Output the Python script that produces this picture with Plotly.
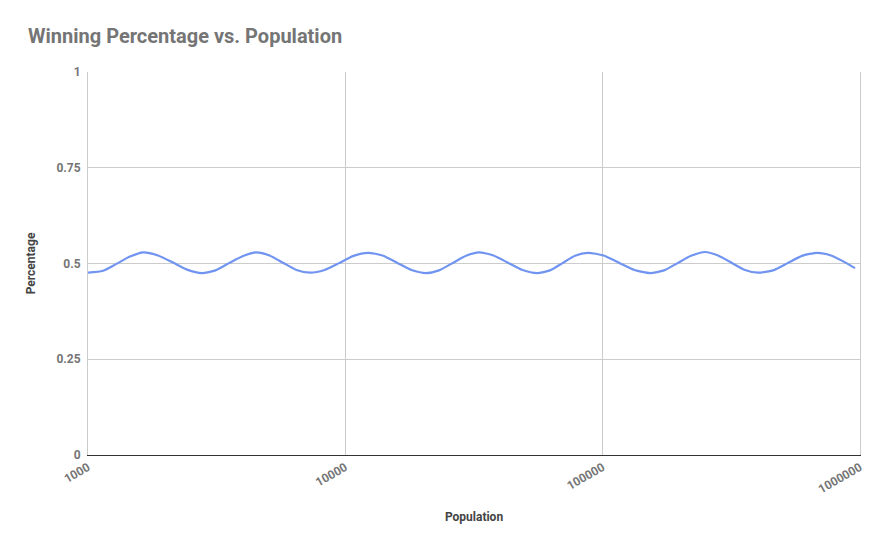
import plotly.graph_objects as go

# population values (log scale) and the winning percentage
population = [
    1000, 1144, 1290, 1457, 1636, 1871, 2130, 2425, 2773,
    3130, 3531, 3985, 4497, 5074, 5726, 6460, 7291,
    8299, 9450, 10760, 12250, 13950, 15880, 18080, 20590,
    23120, 26090, 29440, 33070, 37650, 42870, 48820, 55560,
    62420, 69810, 78070, 87700, 100800, 115700, 132900, 152800,
    173200, 195400, 220400, 249800, 280700, 316800, 357400, 401500,
    459100, 522800, 595100, 680700, 771600, 874600, 956300,
]
percentage = [
    0.476, 0.481, 0.499, 0.518, 0.529, 0.521, 0.503, 0.484, 0.475,
    0.482, 0.501, 0.519, 0.529, 0.521, 0.502, 0.483, 0.476,
    0.483, 0.501, 0.520, 0.528, 0.521, 0.502, 0.483, 0.475,
    0.482, 0.501, 0.520, 0.529, 0.521, 0.502, 0.483, 0.475,
    0.482, 0.501, 0.520, 0.528, 0.521, 0.502, 0.483, 0.475,
    0.482, 0.501, 0.520, 0.530, 0.521, 0.502, 0.483, 0.476,
    0.482, 0.501, 0.520, 0.528, 0.521, 0.503, 0.488,
]

x_ticks = [1000, 10000, 100000, 1000000]
x_labels = ['<b>1000</b>', '<b>10000</b>', '<b>100000</b>', '<b>1000000</b>']
y_ticks = [0, 0.25, 0.5, 0.75, 1]
y_labels = ['<b>0</b>', '<b>0.25</b>', '<b>0.5</b>', '<b>0.75</b>', '<b>1</b>']

trace = go.Scatter(
    x=population,
    y=percentage,
    mode='lines',
    showlegend=False,
    line=dict(color='#7094f0', width=2.2, shape='spline', smoothing=0.6),
)

# the page body adds an 8px margin, so the figure is sized 8px smaller
layout = go.Layout(
    width=878,
    height=540,
    paper_bgcolor='white',
    plot_bgcolor='white',
    font=dict(family='Roboto', size=12, color='#757575'),
    title=dict(text='<b>Winning Percentage vs. Population</b>',
               x=0.0228, xanchor='left', y=0.948, yanchor='middle',
               font=dict(size=20, color='#757575')),
    margin=dict(l=80, r=26, t=64, b=93),
    xaxis=dict(
        type='log',
        range=[3, 6],
        tickvals=x_ticks,
        ticktext=x_labels,
        tickangle=-30,
        tickfont=dict(size=12, color='#757575'),
        showgrid=True,
        gridcolor='#cccccc',
        zeroline=False,
        showline=True,
        linecolor='#333333',
        linewidth=1,
        title=dict(text='<b>Population</b>', standoff=17,
                   font=dict(size=12, color='#444444')),
    ),
    yaxis=dict(
        range=[0, 1],
        tickvals=y_ticks,
        ticktext=y_labels,
        tickfont=dict(size=12, color='#757575'),
        ticklabelstandoff=4,
        showgrid=True,
        gridcolor='#cccccc',
        zeroline=False,
        showline=True,
        mirror=True,
        linecolor='#cccccc',
        title=dict(text='<b>Percentage</b>', standoff=18,
                   font=dict(size=12, color='#444444')),
    ),
)

fig = go.Figure(data=[trace], layout=layout)
fig.write_html('out.html')
